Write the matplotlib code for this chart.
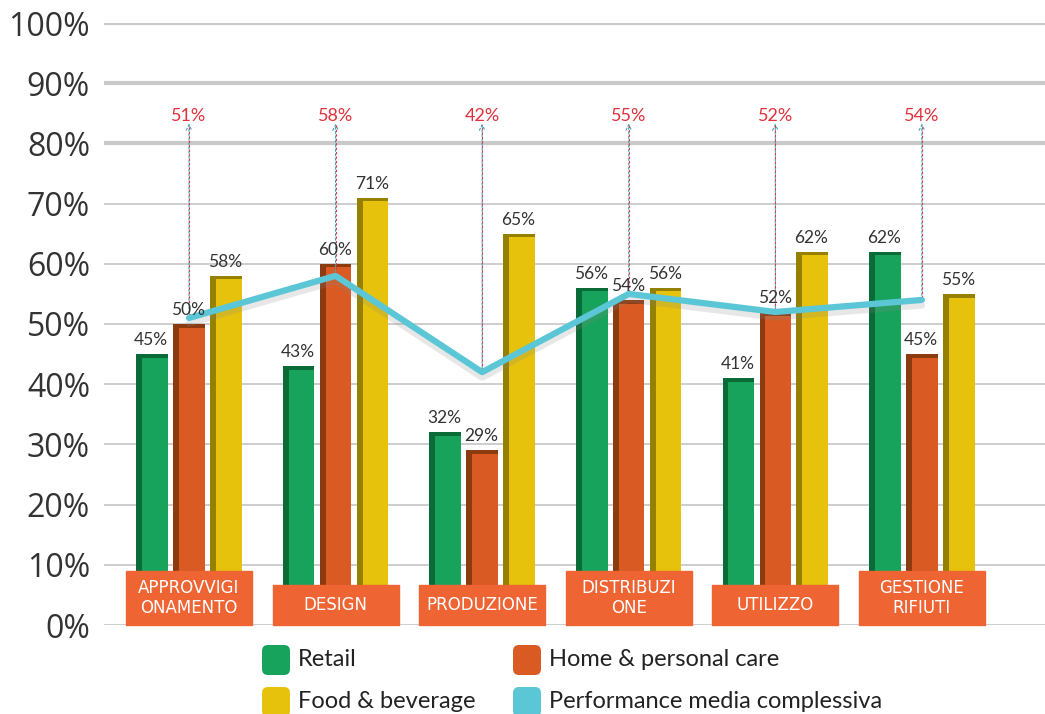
import matplotlib.pyplot as plt
import matplotlib.patheffects as pe
from matplotlib.patches import FancyBboxPatch

# Dati
categories = ['APPROVVIGI\nONAMENTO', 'DESIGN', 'PRODUZIONE', 'DISTRIBUZI\nONE', 'UTILIZZO', 'GESTIONE\nRIFIUTI']
retail = [45, 43, 32, 56, 41, 62]
home_care = [50, 60, 29, 54, 52, 45]
food_bev = [58, 71, 65, 56, 62, 55]
media = [51, 58, 42, 55, 52, 54]
series_names = ['Retail', 'Home & personal care', 'Food & beverage', 'Performance media complessiva']
yticks = [0, 10, 20, 30, 40, 50, 60, 70, 80, 90, 100]

colors = ['#17A35B', '#D95B23', '#E6C20C']
dark = ['#0B6B38', '#8C3A10', '#958000']
line_color = '#5BC6D6'

fig = plt.figure(figsize=(10.45, 7.14), dpi=100)
ax = fig.add_axes([104 / 1045, 1 - 625 / 714, 1 - 104 / 1045, 602 / 714])
ax.set_xlim(-0.58, 5.84)
ax.set_ylim(0, 100)

# griglia
for t in yticks:
    lw = 3 if t >= 80 else 1.3
    ax.axhline(t, color='#c9c9c9', lw=lw, zorder=0)

x = list(range(len(categories)))
width = 0.215
offsets = [-0.252, 0, 0.252]
for s, vals in enumerate([retail, home_care, food_bev]):
    xs = [i + offsets[s] for i in x]
    ax.bar(xs, vals, width=width, color=dark[s], zorder=2)
    ax.bar([xi + 0.02 for xi in xs], [v - 0.6 for v in vals], width=width - 0.04,
           color=colors[s], zorder=3)
    for xi, v in zip(xs, vals):
        ax.text(xi - 0.005, v + 1.0, f'{v}%', ha='center', va='bottom',
                fontsize=12.5, color='#333333', family='Lato', zorder=6)

# linea della media
ax.plot(x, media, color=line_color, lw=4.5, zorder=5, solid_capstyle='round',
        path_effects=[pe.SimpleLineShadow(offset=(0, -4), shadow_color='#888888', alpha=0.2),
                      pe.Normal()])

# frecce e etichette rosse
for xi, m in zip(x, media):
    ax.annotate('', xy=(xi, 83.3), xytext=(xi, m),
                arrowprops=dict(arrowstyle='->', color='#4d9fb3', lw=0.8,
                                linestyle=(0, (2, 2)), shrinkA=0, shrinkB=0), zorder=4)
    ax.plot([xi, xi], [m, 83.0], color='#d9364a', lw=0.8, linestyle=(2, (2, 2)), zorder=4)
    ax.text(xi, 84.6, f'{m}%', ha='center', va='center', fontsize=13,
            color='#E0313A', family='Lato')

# riquadri delle categorie
for xi, lab in zip(x, categories):
    h = 9.0 if '\n' in lab else 6.6
    ax.add_patch(plt.Rectangle((xi - 0.43, 0), 0.86, h, color='#EE6433',
                               zorder=7, clip_on=False))
    ax.text(xi, h / 2, lab, ha='center', va='center', color='white',
            fontsize=12, zorder=8, linespacing=1.1)

ax.set_yticks(yticks)
ax.set_yticklabels([f'{t}%' for t in yticks], fontsize=23, color='#333333', family='Open Sans')
ax.tick_params(axis='y', length=0, pad=10)
ax.set_xticks([])
for sp in ax.spines.values():
    sp.set_visible(False)

# legenda manuale
leg = [(2.62, 0.39, 0), (5.13, 0.39, 1), (2.62, -0.03, 2), (5.13, -0.03, 3)]
leg_colors = colors + [line_color]
for lx, ly, k in leg:
    fig.add_artist(FancyBboxPatch((lx + 0.04, ly + 0.04), 0.20, 0.22,
                                  boxstyle='round,pad=0.04,rounding_size=0.06',
                                  transform=fig.dpi_scale_trans,
                                  facecolor=leg_colors[k], edgecolor='none'))
    fig.text(lx + 0.36, ly + 0.15, series_names[k], transform=fig.dpi_scale_trans,
             va='center', ha='left', fontsize=17, color='#222222', family='Lato')

fig.savefig('out.png', dpi=100)
